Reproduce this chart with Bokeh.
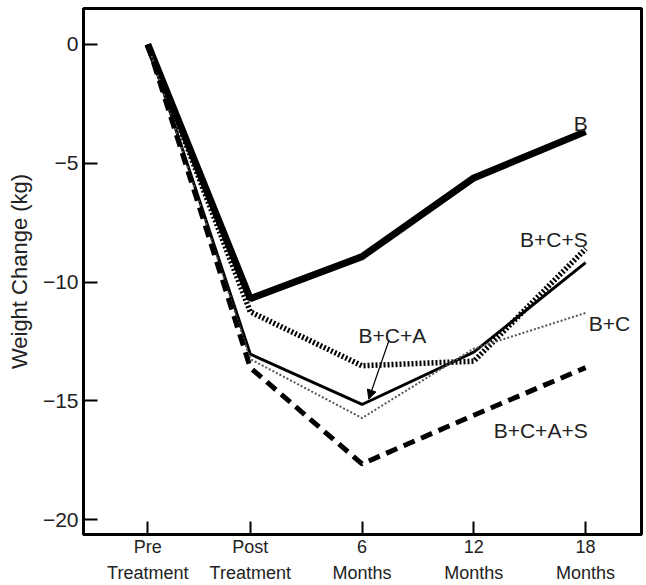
from bokeh.plotting import figure
from bokeh.models import Range1d, FixedTicker, Arrow, NormalHead, Label
from bokeh.embed import file_html
from bokeh.resources import INLINE

# Time axis: positions (months relative to end of treatment) and their labels
time_points = [-5.5, 0, 6, 12, 18]
tick_labels = ["Pre\nTreatment", "Post\nTreatment", "6\nMonths", "12\nMonths", "18\nMonths"]

# Mean weight change (kg) per treatment group
b_vals = [0, -10.7, -8.93, -5.62, -3.67]
bcs_vals = [0, -11.25, -13.52, -13.33, -8.6]
bca_vals = [0, -13.03, -15.15, -12.95, -9.18]
bc_vals = [0, -13.24, -15.72, -12.8, -11.3]
bcas_vals = [0, -13.6, -17.65, -15.6, -13.6]

y_ticks = [0, -5, -10, -15, -20]

FONT = "Liberation Sans"
TEXT = "#222222"

p = figure(width=646, height=585, output_backend="svg", toolbar_location=None,
           x_range=Range1d(-8.95, 21.0), y_range=Range1d(-20.62, 1.51),
           min_border_left=83, min_border_right=5, min_border_top=8, min_border_bottom=49)
p.grid.visible = False
p.background_fill_color = "white"
p.border_fill_color = "white"
p.outline_line_color = "black"
p.outline_line_width = 3

# Series
p.line(time_points, b_vals, line_color="black", line_width=7)
p.line(time_points, bcs_vals, line_color="black", line_width=5.5, line_dash="2 2")
p.line(time_points, bca_vals, line_color="black", line_width=3)
p.line(time_points, bc_vals, line_color="#555555", line_width=2, line_dash="2 2")
p.line(time_points, bcas_vals, line_color="black", line_width=5, line_dash="12 7")

# X axis
xa = p.xaxis[0]
xa.ticker = FixedTicker(ticks=time_points)
xa.major_label_overrides = {t: l for t, l in zip(time_points, tick_labels)}
xa.major_label_text_font = FONT
xa.major_label_text_font_size = "18px"
xa.major_label_text_line_height = 1.3
xa.major_label_text_color = TEXT
xa.major_label_standoff = 2
xa.major_tick_in = 13
xa.major_tick_out = 0
xa.major_tick_line_width = 2
xa.minor_tick_line_color = None
xa.axis_line_width = 3

# Y axis
ya = p.yaxis[0]
ya.ticker = FixedTicker(ticks=y_ticks)
ya.major_label_overrides = {t: ("0" if t == 0 else "\u2212" + str(abs(t))) for t in y_ticks}
ya.major_label_text_font = FONT
ya.major_label_text_font_size = "21px"
ya.major_label_text_color = TEXT
ya.major_label_standoff = 5
ya.major_tick_in = 14
ya.major_tick_out = 0
ya.major_tick_line_width = 2
ya.minor_tick_line_color = None
ya.axis_line_width = 3
ya.axis_label = "Weight Change (kg)"
ya.axis_label_text_font = FONT
ya.axis_label_text_font_size = "22px"
ya.axis_label_text_font_style = "normal"
ya.axis_label_text_color = TEXT
ya.axis_label_standoff = 8

# Series labels
def add_label(x, y, text, align):
    p.add_layout(Label(x=x, y=y, text=text, text_align=align, text_baseline="alphabetic",
                       text_font=FONT, text_font_size="21px", text_color=TEXT))

add_label(18.11, -3.31, "B", "right")
add_label(18.11, -8.21, "B+C+S", "right")
add_label(18.17, -11.73, "B+C", "left")
add_label(5.81, -12.24, "B+C+A", "left")
add_label(18.11, -16.26, "B+C+A+S", "right")

p.add_layout(Arrow(x_start=7.43, y_start=-12.49, x_end=6.36, y_end=-14.92,
                   line_color="black", line_width=1.2,
                   end=NormalHead(size=9, fill_color="black", line_color="black", line_width=1)))

open("out.html", "w").write(file_html(p, INLINE))
